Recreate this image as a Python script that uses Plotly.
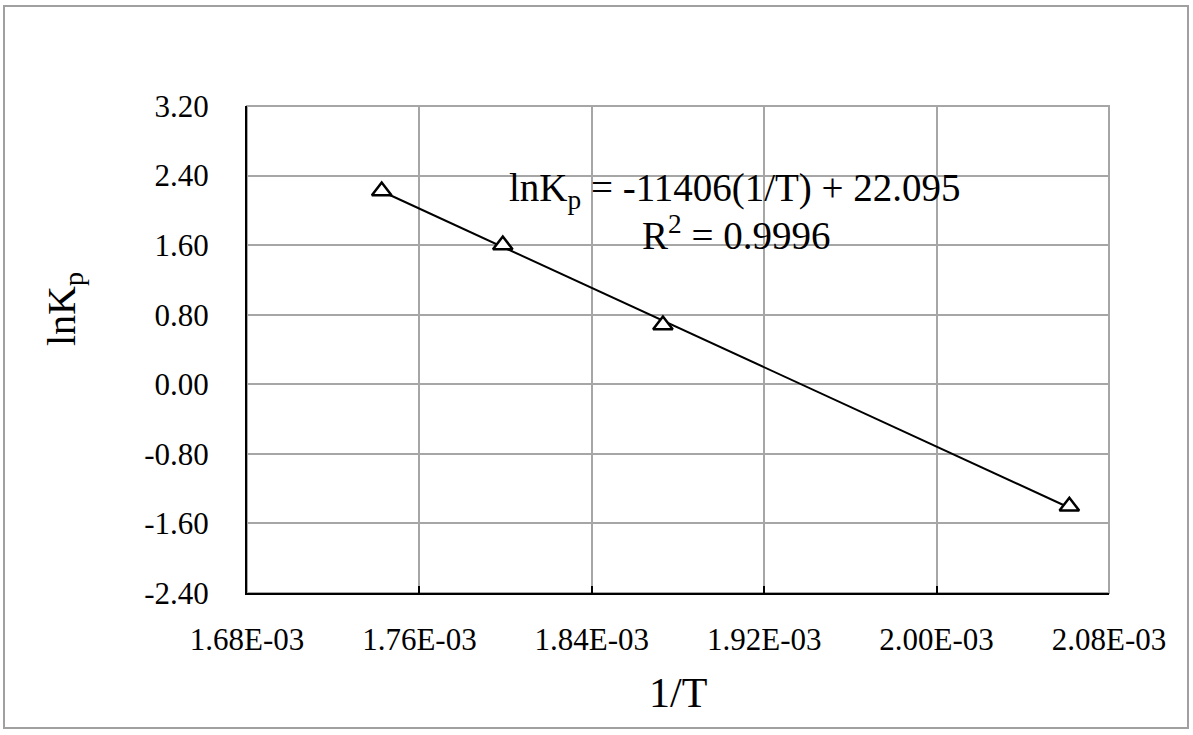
import plotly.graph_objects as go

# ---- data ----
inv_T = [1.7425e-3, 1.7987e-3, 1.8730e-3, 2.0616e-3]
lnKp = [2.222, 1.602, 0.682, -1.402]

fit_slope = -11406.0
fit_intercept = 22.095
fit_text = "lnK<sub>p</sub> = -11406(1/T) + 22.095"
r2_text = "R<sup>2</sup> = 0.9996"

x_tickvals = [1.68e-3, 1.76e-3, 1.84e-3, 1.92e-3, 2.00e-3, 2.08e-3]
x_ticktext = ["1.68E-03", "1.76E-03", "1.84E-03", "1.92E-03", "2.00E-03", "2.08E-03"]
y_tickvals = [-2.4, -1.6, -0.8, 0.0, 0.8, 1.6, 2.4, 3.2]
y_ticktext = ["-2.40", "-1.60", "-0.80", "0.00", "0.80", "1.60", "2.40", "3.20"]

x_title = "1/T"
y_title = "lnK<sub>p</sub>"

# ---- layout geometry (pixels) ----
W, H = 1193, 735
L, R, T, B = 247, 1109, 106, 593
pw, ph = R - L, B - T


def px_x(p):
    return (p - L) / pw


def px_y(p):
    return (B - p) / ph


FONT = "Liberation Serif"

trend_x = [min(inv_T), max(inv_T)]
trend_y = [fit_slope * v + fit_intercept for v in trend_x]

fig = go.Figure()
fig.add_trace(go.Scatter(
    x=trend_x, y=trend_y, mode="lines",
    line=dict(color="black", width=2), showlegend=False, hoverinfo="skip"))
fig.add_trace(go.Scatter(
    x=inv_T, y=lnKp, mode="markers",
    marker=dict(symbol="triangle-up", size=17, color="white",
                line=dict(color="black", width=2.5)),
    showlegend=False))

fig.update_layout(
    width=W, height=H,
    margin=dict(l=L, r=W - R, t=T, b=H - B),
    paper_bgcolor="white", plot_bgcolor="white",
    font=dict(family=FONT, color="black", size=31),
    xaxis=dict(
        range=[x_tickvals[0], x_tickvals[-1]],
        tickmode="array", tickvals=x_tickvals, ticktext=x_ticktext,
        showgrid=True, gridcolor="#a6a6a6", gridwidth=2,
        showline=True, linecolor="black", linewidth=2,
        ticks="inside", ticklen=7, tickwidth=2, tickcolor="black",
        ticklabelstandoff=18,
        zeroline=False, tickfont=dict(family=FONT, size=31, color="black"),
    ),
    yaxis=dict(
        range=[y_tickvals[0], y_tickvals[-1]],
        tickmode="array", tickvals=y_tickvals, ticktext=y_ticktext,
        showgrid=True, gridcolor="#a6a6a6", gridwidth=2,
        showline=True, linecolor="black", linewidth=2,
        ticks="", ticklabelstandoff=30,
        zeroline=False, tickfont=dict(family=FONT, size=31, color="black"),
    ),
    shapes=[
        dict(type="rect", xref="paper", yref="paper", x0=0, y0=0, x1=1, y1=1,
             line=dict(color="#a6a6a6", width=2), layer="below"),
        dict(type="rect", xref="paper", yref="paper",
             x0=px_x(4), x1=px_x(1188), y0=px_y(728), y1=px_y(6),
             line=dict(color="#a0a0a0", width=2)),
    ],
    annotations=[
        dict(text=fit_text, xref="paper", yref="paper",
             x=px_x(735), y=px_y(190), xanchor="center", yanchor="middle",
             showarrow=False, font=dict(family=FONT, size=39, color="black")),
        dict(text=r2_text, xref="paper", yref="paper",
             x=px_x(736), y=px_y(233), xanchor="center", yanchor="middle",
             showarrow=False, font=dict(family=FONT, size=39, color="black")),
        dict(text=x_title, xref="paper", yref="paper",
             x=px_x(678), y=px_y(693), xanchor="center", yanchor="middle",
             showarrow=False, font=dict(family=FONT, size=42, color="black")),
        dict(text=y_title, xref="paper", yref="paper", textangle=-90,
             x=px_x(64), y=px_y(309), xanchor="center", yanchor="middle",
             showarrow=False, font=dict(family=FONT, size=40, color="black")),
    ],
)

fig.write_html("out.html",
               config={"displayModeBar": False},
               post_script="document.body.style.margin='0px';document.body.style.overflow='hidden';")
